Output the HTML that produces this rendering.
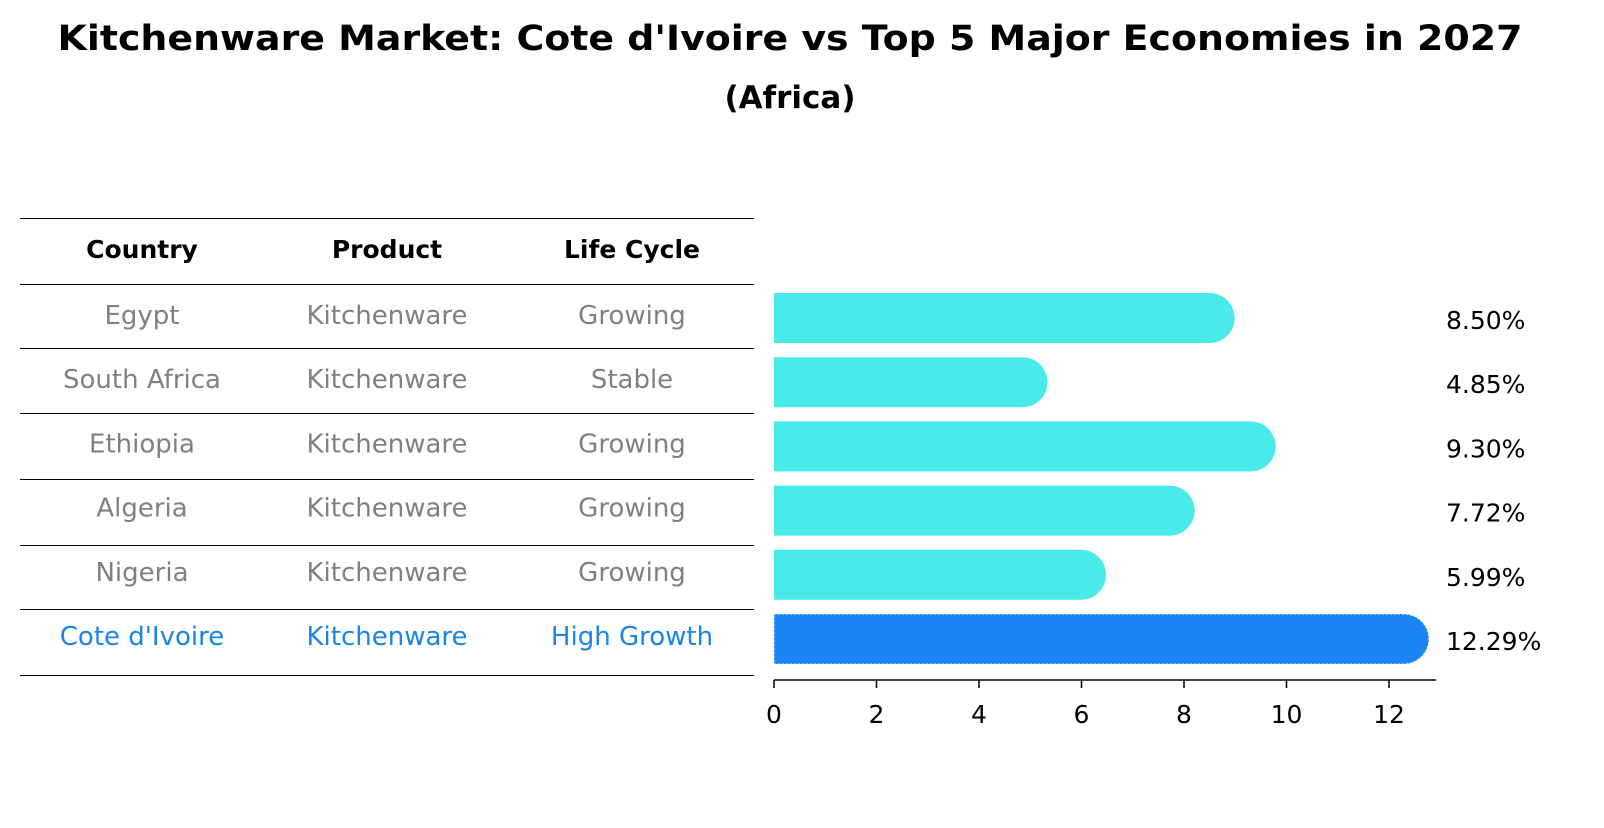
<!DOCTYPE html>
<html><head><meta charset="utf-8"><style>
body{margin:0;background:#fff;font-family:"Liberation Sans","DejaVu Sans",sans-serif}
svg text{font-family:"DejaVu Sans","Liberation Sans",sans-serif}
</style></head><body>
<svg id="c" width="1604" height="823" xmlns="http://www.w3.org/2000/svg">
<text x="790" y="50" text-anchor="middle" font-size="35" font-weight="bold" textLength="1465" lengthAdjust="spacingAndGlyphs">Kitchenware Market: Cote d'Ivoire vs Top 5 Major Economies in 2027</text>
<text x="790" y="108" text-anchor="middle" font-size="31" font-weight="bold">(Africa)</text>
<g id="tbl"></g>
<g id="bars"></g>
</svg>
<script>
const countries=["Egypt","South Africa","Ethiopia","Algeria","Nigeria","Cote d'Ivoire"];
const products=["Kitchenware","Kitchenware","Kitchenware","Kitchenware","Kitchenware","Kitchenware"];
const lifecycle=["Growing","Stable","Growing","Growing","Growing","High Growth"];
const values=[8.50,4.85,9.30,7.72,5.99,12.29];
const ticks=[0,2,4,6,8,10,12];
const NS="http://www.w3.org/2000/svg";
function el(t,a,p,txt){const e=document.createElementNS(NS,t);for(const k in a)e.setAttribute(k,a[k]);if(txt!==undefined)e.textContent=txt;p.appendChild(e);return e;}
const tbl=document.getElementById('tbl'),bars=document.getElementById('bars');
const x=v=>774+v*51.25;
const rowY=i=>318+i*64.2;
const lines=[218,284,348,413,479,545,609,675];
lines.forEach((y,i)=>{const l=el('line',{x1:20,x2:754,y1:y+0.5,y2:y+0.5,stroke:'#000','stroke-width':1},tbl);

});
const cx=[142,387,632];
["Country","Product","Life Cycle"].forEach((h,j)=>{const t=el('text',{x:cx[j],y:258,'text-anchor':'middle','font-size':25,'font-weight':'bold'},tbl,h);

});
countries.forEach((c,i)=>{const hl=i===countries.length-1;const col=hl?'#1a85e6':'#808080';
[c,products[i],lifecycle[i]].forEach((v,j)=>{const t=el('text',{x:cx[j],y:rowY(i)+6,'text-anchor':'middle','font-size':26,fill:col},tbl,v);

});});
const h=50,r=25;
values.forEach((v,i)=>{const hl=i===values.length-1;const y0=rowY(i)-h/2;const x0=x(0),x1=x(v);
const d=`M${x0},${y0} H${x1} A${r},${r} 0 0 1 ${x1+r},${y0+r} A${r},${r} 0 0 1 ${x1},${y0+h} H${x0} Z`;
const p=el('path',{d:d,fill:hl?'#1a85f5':'#4aeaea',stroke:hl?'#ffffff':'none','stroke-width':hl?1:0,'stroke-dasharray':hl?'2,2':''},bars);


const t=el('text',{x:1446,y:rowY(i)+11,'font-size':25},bars,v.toFixed(2)+'%');

});
const ax=el('line',{x1:x(0),x2:1436,y1:680,y2:680,stroke:'#000','stroke-width':1.5},bars);


ticks.forEach(t=>{const l=el('line',{x1:x(t),x2:x(t),y1:680,y2:688,stroke:'#000','stroke-width':1.5},bars);


const tx=el('text',{x:x(t),y:723,'text-anchor':'middle','font-size':25},bars,t);

});
</script>
</body></html>
